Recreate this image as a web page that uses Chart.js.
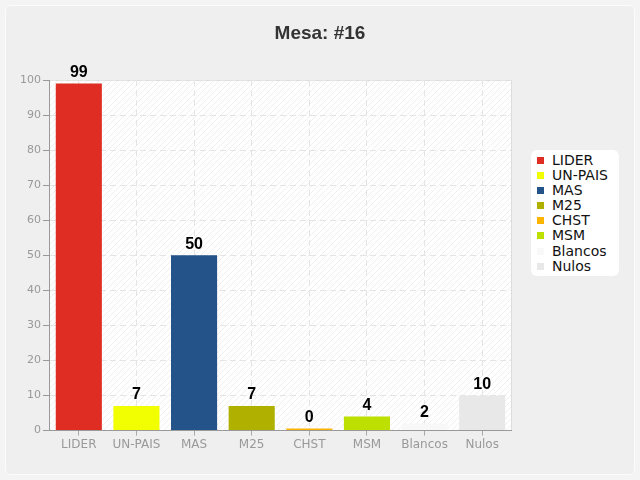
<!DOCTYPE html>
<html>
<head>
<meta charset="utf-8">
<script src="https://cdn.jsdelivr.net/npm/chart.js@4"></script>
<style>
  html, body { margin: 0; padding: 0; background: #f4f4f4; }
  .card { position: absolute; left: 5px; top: 5px; width: 628px; height: 468px;
          background: #efefef; border: 1px solid #fcfcfc; border-radius: 6px; }
  #wrap { position: absolute; left: 0; top: 0; width: 640px; height: 480px; }
  #title { position: absolute; left: 0; top: 22px; width: 640px; height: 22px; line-height: 22px;
           text-align: center; font: bold 19px "Liberation Sans", Arial, sans-serif; color: #333333; }
  #legend { position: absolute; left: 531px; top: 150px; width: 88px; height: 126px;
            background: #ffffff; border-radius: 6px; box-sizing: border-box; padding: 3px 0 0 6px;
            font: 14px "DejaVu Sans", sans-serif; color: #111111; }
  #legend .item { height: 15.1px; line-height: 15.1px; white-space: nowrap; }
  #legend .sw { display: inline-block; width: 7px; height: 7px; margin-right: 8px; vertical-align: 1px; }
</style>
</head>
<body>
<div class="card"></div>
<div id="wrap"><canvas id="chart" width="640" height="480"></canvas></div>
<div id="title">Mesa: #16</div>
<div id="legend"></div>
<script>
// data
const categories = ["LIDER", "UN-PAIS", "MAS", "M25", "CHST", "MSM", "Blancos", "Nulos"];
const votes = [99, 7, 50, 7, 0, 4, 2, 10];
const barColors = ["#e02d23", "#f2ff00", "#245389", "#b0b000", "#ffb400", "#bde000", "#f8f8f8", "#e8e8e8"];
const yTicks = [0, 10, 20, 30, 40, 50, 60, 70, 80, 90, 100];

// hatched plot background
function makeHatch() {
  const c = document.createElement("canvas");
  c.width = 6; c.height = 6;
  const g = c.getContext("2d");
  g.fillStyle = "#ffffff";
  g.fillRect(0, 0, 6, 6);
  g.strokeStyle = "#efefef";
  g.lineWidth = 1;
  g.beginPath();
  g.moveTo(0, 6); g.lineTo(6, 0);
  g.moveTo(-3, 3); g.lineTo(3, -3);
  g.moveTo(3, 9); g.lineTo(9, 3);
  g.stroke();
  return g.createPattern(c, "repeat");
}

const plotBackground = {
  id: "plotBackground",
  beforeDraw(chart) {
    const { ctx, chartArea: a } = chart;
    ctx.save();
    ctx.fillStyle = makeHatch();
    ctx.fillRect(a.left, a.top, a.right - a.left, a.bottom - a.top);
    ctx.strokeStyle = "#dddddd";
    ctx.lineWidth = 1;
    ctx.beginPath();
    ctx.moveTo(a.left, a.top + 0.5);
    ctx.lineTo(a.right + 0.5, a.top + 0.5);
    ctx.lineTo(a.right + 0.5, a.bottom);
    ctx.stroke();
    ctx.restore();
  }
};

// value labels on top of the bars
const valueLabels = {
  id: "valueLabels",
  afterDatasetsDraw(chart) {
    const ctx = chart.ctx;
    const meta = chart.getDatasetMeta(0);
    ctx.save();
    ctx.font = "bold 16px 'Liberation Sans', Arial, sans-serif";
    ctx.fillStyle = "#000000";
    ctx.textAlign = "center";
    ctx.textBaseline = "bottom";
    meta.data.forEach((bar, i) => {
      ctx.fillText(String(votes[i]), bar.x, bar.y - 3);
    });
    ctx.restore();
  }
};

new Chart(document.getElementById("chart"), {
  type: "bar",
  data: {
    labels: categories,
    datasets: [{
      label: "Votos",
      data: votes,
      backgroundColor: barColors,
      barPercentage: 0.8,
      categoryPercentage: 1,
      minBarLength: 2
    }]
  },
  options: {
    responsive: false,
    animation: false,
    devicePixelRatio: 1,
    layout: { padding: { left: 18, right: 129, top: 80, bottom: 26 } },
    scales: {
      x: {
        grid: {
          offset: false,
          color: "#e4e4e4",
          tickColor: "#aaaaaa",
          tickLength: 5,
          tickBorderDash: []
        },
        border: { color: "#999999", dash: [6, 4] },
        ticks: { color: "#999999", padding: 2, font: { family: "DejaVu Sans", size: 12 } }
      },
      y: {
        min: 0,
        max: 100,
        afterBuildTicks(scale) { scale.ticks = yTicks.map(v => ({ value: v })); },
        grid: {
          color: "#e4e4e4",
          tickColor: "#999999",
          tickLength: 7,
          tickBorderDash: []
        },
        border: { color: "#999999", dash: [6, 4] },
        ticks: { color: "#999999", padding: 2, font: { family: "DejaVu Sans", size: 11 } }
      }
    },
    plugins: {
      title: { display: false },
      legend: { display: false },
      tooltip: { enabled: false }
    }
  },
  plugins: [plotBackground, valueLabels]
});

// legend box on the right
const legendEl = document.getElementById("legend");
categories.forEach((c, i) => {
  const row = document.createElement("div");
  row.className = "item";
  const sw = document.createElement("span");
  sw.className = "sw";
  sw.style.background = barColors[i];
  row.appendChild(sw);
  row.appendChild(document.createTextNode(c));
  legendEl.appendChild(row);
});
</script>
</body>
</html>
